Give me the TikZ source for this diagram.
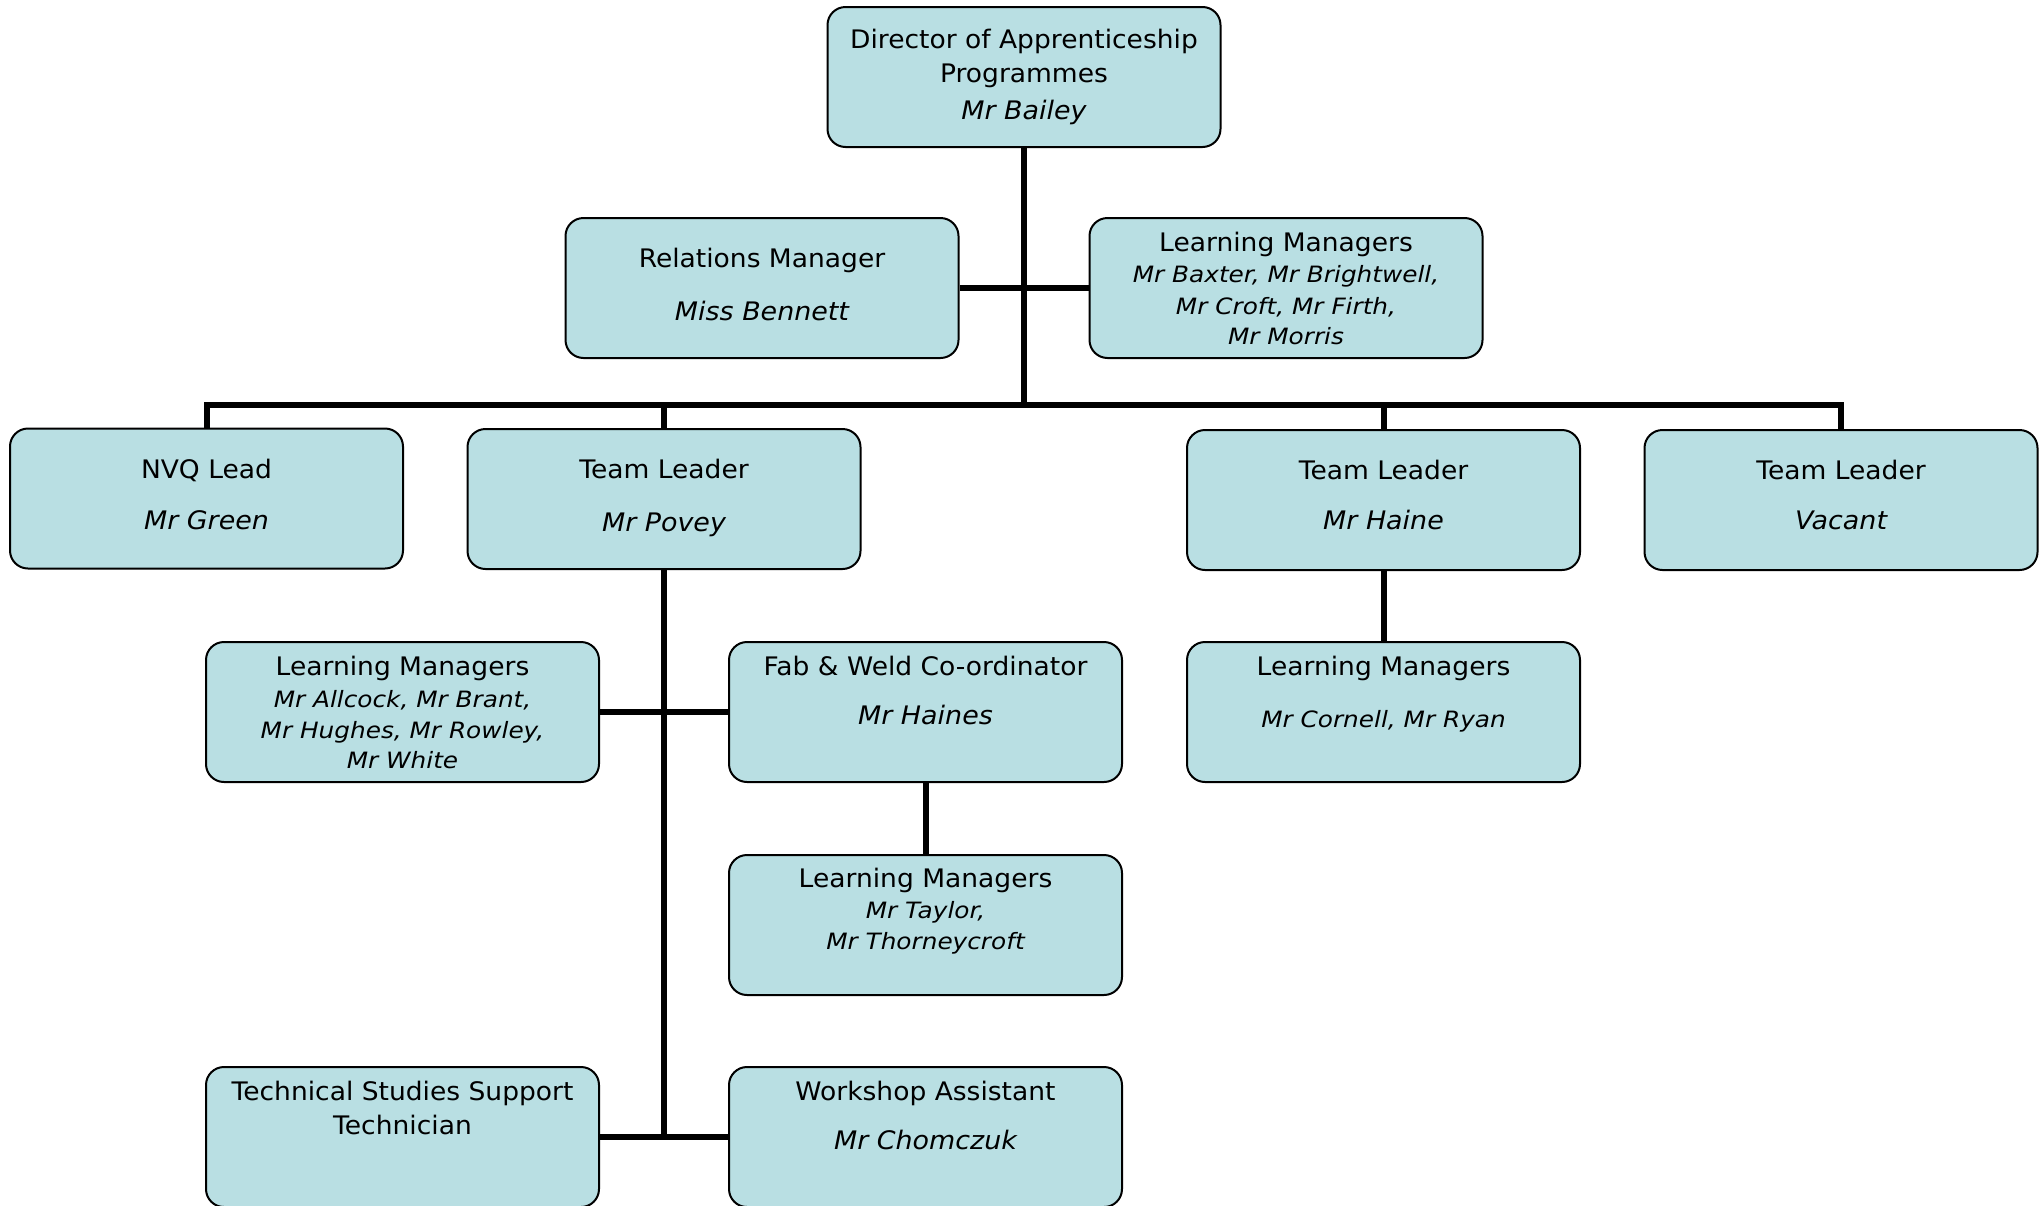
\documentclass[tikz,border=0pt]{standalone}
\usepackage{fontspec}
\setmainfont{DejaVu Sans}
\newfontfamily\ttlfont[FakeStretch=1.04]{DejaVu Sans}
\newfontfamily\bigitfont[FakeStretch=1.055]{DejaVu Sans}
\newfontfamily\smitfont[FakeStretch=1.10]{DejaVu Sans}
\definecolor{boxfill}{RGB}{185,223,227}
\begin{document}
\begin{tikzpicture}[x=1pt,y=-1pt,
  box/.style={draw=black, line width=2pt, fill=boxfill, rounded corners=18pt,
    minimum width=393pt, minimum height=140pt, inner sep=0pt},
  conn/.style={draw=black, line width=6pt, line join=miter},
  tl/.style={anchor=base, inner sep=0pt, font=\ttlfont\fontsize{25.5}{30}\selectfont},
  nm/.style={anchor=base, inner sep=0pt, font=\bigitfont\fontsize{25.5}{30}\selectfont\itshape},
  sm/.style={anchor=base, inner sep=0pt, font=\smitfont\fontsize{22.5}{27}\selectfont\itshape}]
\useasboundingbox (0,0) rectangle (2044,1205);
% boxes
\node[box] (dir) at (1024,77) {};
\node[box] (rel) at (762,288) {};
\node[box] (lmt) at (1286,288) {};
\node[box] (nvq) at (206.5,498.5) {};
\node[box] (pov) at (664,499) {};
\node[box] (hai) at (1383.5,500) {};
\node[box] (vac) at (1841,500) {};
\node[box] (lma) at (402.5,712) {};
\node[box] (fab) at (925.5,712) {};
\node[box] (cor) at (1383.5,712) {};
\node[box] (tay) at (925.5,925) {};
\node[box] (tec) at (402.5,1137) {};
\node[box] (wsa) at (925.5,1137) {};
% connectors
\coordinate (bus) at (1024,405);
\draw[conn] (dir.south) -- (bus);
\draw[conn] (rel.east) -- (lmt.west);
\draw[conn] (nvq.north) -- (nvq.north |- bus) -- (vac.north |- bus) -- (vac.north);
\draw[conn] (pov.north) -- (pov.north |- bus);
\draw[conn] (hai.north) -- (hai.north |- bus);
\draw[conn] (pov.south) -- (pov.south |- tec.east);
\draw[conn] (lma.east) -- (fab.west);
\draw[conn] (tec.east) -- (wsa.west);
\draw[conn] (fab.south) -- (tay.north);
\draw[conn] (hai.south) -- (cor.north);
% texts
\node[tl] (dirA) at (1024,48) {Director of Apprenticeship};
\node[tl] (dirB) at (1024,82) {Programmes};
\node[nm] (dirC) at (1024,119) {Mr Bailey};
\node[tl] (relA) at (762,267) {Relations Manager};
\node[nm] (relB) at (762,320) {Miss Bennett};
\node[tl] (lmtA) at (1286,251) {Learning Managers};
\node[sm] (lmtB) at (1286,282) {Mr Baxter, Mr Brightwell,};
\node[sm] (lmtC) at (1286,314) {Mr Croft, Mr Firth,};
\node[sm] (lmtD) at (1286,344) {Mr Morris};
\node[tl] (nvqA) at (206.5,478) {NVQ Lead};
\node[nm] (nvqB) at (206.5,529) {Mr Green};
\node[tl] (povA) at (664,478) {Team Leader};
\node[nm] (povB) at (664,531) {Mr Povey};
\node[tl] (haiA) at (1383.5,479) {Team Leader};
\node[nm] (haiB) at (1383.5,529) {Mr Haine};
\node[tl] (vacA) at (1841,479) {Team Leader};
\node[nm] (vacB) at (1841,529) {Vacant};
\node[tl] (lmaA) at (402.5,675) {Learning Managers};
\node[sm] (lmaB) at (402.5,707) {Mr Allcock, Mr Brant,};
\node[sm] (lmaC) at (402.5,738) {Mr Hughes, Mr Rowley,};
\node[sm] (lmaD) at (402.5,768) {Mr White};
\node[tl] (fabA) at (925.5,675) {Fab \& Weld Co-ordinator};
\node[nm] (fabB) at (925.5,724) {Mr Haines};
\node[tl] (corA) at (1383.5,675) {Learning Managers};
\node[sm] (corB) at (1383.5,727) {Mr Cornell, Mr Ryan};
\node[tl] (tayA) at (925.5,887) {Learning Managers};
\node[sm] (tayB) at (925.5,918) {Mr Taylor,};
\node[sm] (tayC) at (925.5,949) {Mr Thorneycroft};
\node[tl] (tecA) at (402.5,1100) {Technical Studies Support};
\node[tl] (tecB) at (402.5,1134) {Technician};
\node[tl] (wsaA) at (925.5,1100) {Workshop Assistant};
\node[nm] (wsaB) at (925.5,1149) {Mr Chomczuk};
\end{tikzpicture}
\end{document}
